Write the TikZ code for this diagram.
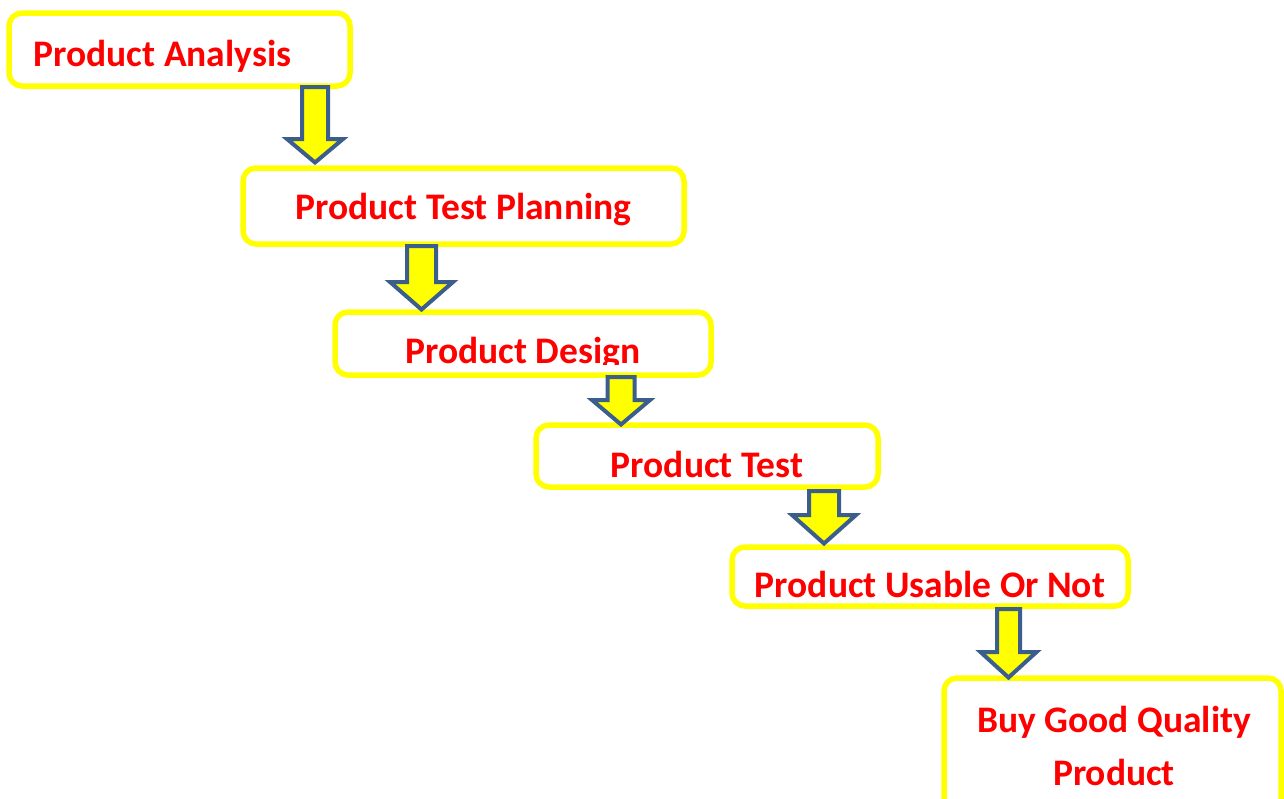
\documentclass[tikz,border=0pt]{standalone}
\usepackage{fontspec}
\setmainfont{Carlito}
\usetikzlibrary{calc}
\definecolor{boxline}{RGB}{255,255,0}
\definecolor{arrowfill}{RGB}{255,255,0}
\definecolor{arrowline}{RGB}{60,94,140}
\definecolor{labelred}{RGB}{255,0,0}
\tikzset{
  stagebox/.style={draw=boxline, line width=5.5pt, rounded corners=13pt, fill=white,
    inner sep=0pt, rectangle},
  stagetext/.style={text=labelred, font=\fontsize{37.5}{45}\selectfont\bfseries,
    inner sep=0pt, anchor=base},
  blockarrow/.style={draw=arrowline, fill=arrowfill, line width=4pt, miter limit=10},
}
% downward block arrow: centre x, shaft top y, shoulder y, tip y, half shaft, half head
\newcommand{\downblock}[6]{%
  \draw[blockarrow] (#1-#5,#2) -- (#1+#5,#2) -- (#1+#5,#3) -- (#1+#6,#3)
    -- (#1,#4) -- (#1-#6,#3) -- (#1-#5,#3) -- cycle;}
\begin{document}
\begin{tikzpicture}[x=1pt, y=-1pt]
  \clip (0,0) rectangle (1284,798);
  \fill[white] (0,0) rectangle (1284,798);

  % stage boxes
  \node[stagebox, minimum width=341pt, minimum height=73pt] (b1) at (179.5,49.5) {};
  \node[stagebox, minimum width=441pt, minimum height=76pt] (b2) at (463.5,206) {};
  \node[stagebox, minimum width=376pt, minimum height=63pt] (b3) at (523,343.5) {};
  \node[stagebox, minimum width=342pt, minimum height=62pt] (b4) at (707,456) {};
  \node[stagebox, minimum width=396pt, minimum height=59pt] (b5) at (930,576.5) {};
  \node[stagebox, minimum width=337pt, minimum height=152pt] (b6) at (1112.5,754) {};

  % stage labels
  \node[stagetext] (l1) at (162.5,66) {Product Analysis};
  \node[stagetext] (l2) at (463.5,219) {Product Test Planning};
  \begin{scope}
    \clip (335,312) rectangle (711,364);
    \node[stagetext] (l3) at (523,363) {Product Design};
  \end{scope}
  \node[stagetext] (l4) at (707,477) {Product Test};
  \node[stagetext] (l5) at (930,597) {Product Usable Or Not};
  \node[stagetext] (l6) at (1114,732) {Buy Good Quality};
  \node[stagetext] (l6b) at (1114,785) {Product};

  % arrows between stages
  \downblock{315}{87}{139}{162.5}{13}{28}
  \downblock{421.5}{246}{282}{309.5}{14.5}{31.5}
  \downblock{621}{377}{400}{424.5}{13.5}{29}
  \downblock{824}{491}{515}{543.5}{15}{32}
  \downblock{1008.5}{609}{652}{677.5}{11.5}{28}
\end{tikzpicture}
\end{document}
